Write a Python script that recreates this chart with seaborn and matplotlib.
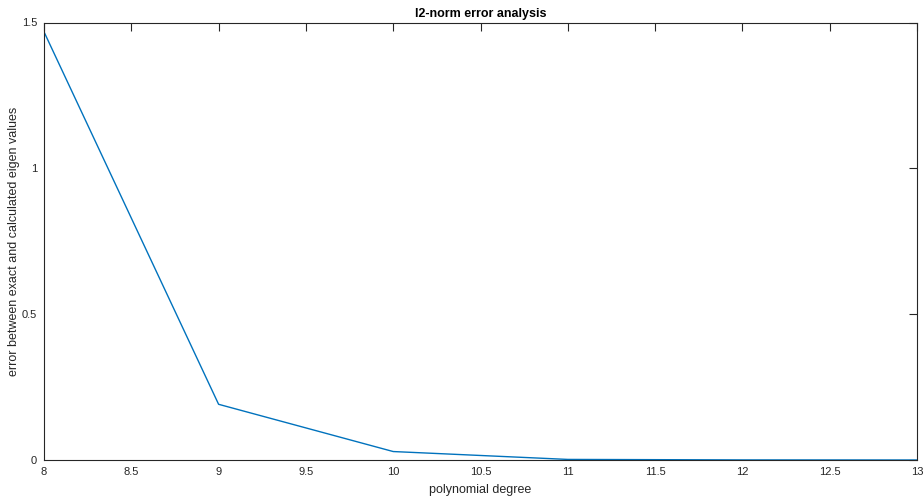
import pandas as pd
import matplotlib
matplotlib.use("Agg")
import matplotlib.pyplot as plt
import seaborn as sns

# data
degree = [8, 9, 10, 11, 12, 13]
l2_error = [1.468, 0.191, 0.029, 0.002, 0.0003, 0.00003]
x_ticks = [8, 8.5, 9, 9.5, 10, 10.5, 11, 11.5, 12, 12.5, 13]
x_tick_labels = ["8", "8.5", "9", "9.5", "10", "10.5", "11", "11.5", "12", "12.5", "13"]
y_ticks = [0, 0.5, 1, 1.5]
y_tick_labels = ["0", "0.5", "1", "1.5"]

sns.set_style("white")
plt.rcParams["font.family"] = ["Liberation Sans", "DejaVu Sans"]

axis_grey = "#262626"
df = pd.DataFrame({"degree": degree, "error": l2_error})

fig = plt.figure(figsize=(9.23, 5.01), dpi=100)
ax = fig.add_axes([44 / 923, 1 - 460 / 501, (917 - 44) / 923, (460 - 22.5) / 501])

sns.lineplot(data=df, x="degree", y="error", ax=ax, color="#0072BD", linewidth=1.0)

ax.set_xlim(8, 13)
ax.set_ylim(0, 1.5)
ax.set_xticks(x_ticks)
ax.set_xticklabels(x_tick_labels)
ax.set_yticks(y_ticks)
ax.set_yticklabels(y_tick_labels)

for side in ax.spines.values():
    side.set_visible(True)
    side.set_color(axis_grey)
    side.set_linewidth(0.8)

ax.tick_params(axis="both", direction="in", length=6, width=0.8, color=axis_grey,
               labelcolor=axis_grey, labelsize=8, top=True, right=True, pad=5)

ax.set_xlabel("polynomial degree", fontsize=9, color=axis_grey, labelpad=5)
ax.set_ylabel("error between exact and calculated eigen values", fontsize=9, color=axis_grey, labelpad=1)
ax.set_title("l2-norm error analysis", fontsize=9, fontweight="bold", color="black", pad=4)

fig.savefig("out.png", dpi=100)
